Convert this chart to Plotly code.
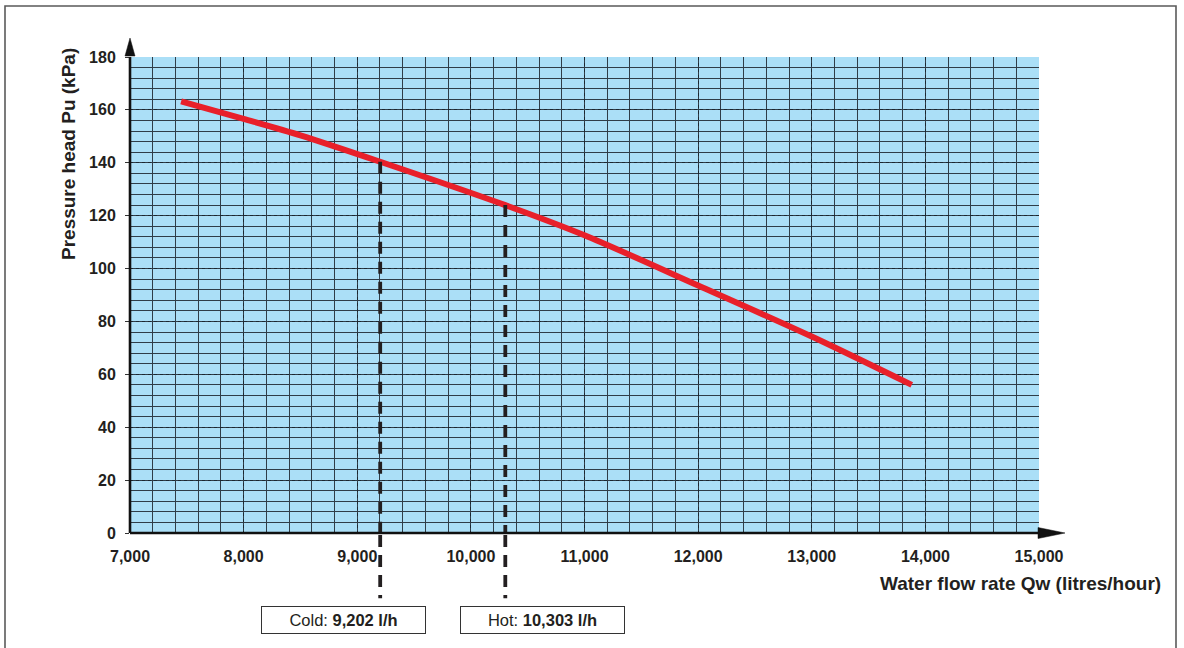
import plotly.graph_objects as go

# ---- data ----
flow = [7450, 8000, 8500, 9202, 10303, 11000, 12000, 13000, 13880]
pressure = [163.2, 156.6, 150.4, 140.4, 124.0, 112.6, 93.6, 74.3, 56.0]

cold_flow = 9202
hot_flow = 10303
cold_p = pressure[flow.index(cold_flow)]
hot_p = pressure[flow.index(hot_flow)]

x_range = [7000, 15000]
y_range = [0, 180]
x_ticks = [7000, 8000, 9000, 10000, 11000, 12000, 13000, 14000, 15000]
x_ticklabels = ["7,000", "8,000", "9,000", "10,000", "11,000", "12,000", "13,000", "14,000", "15,000"]
y_ticks = [0, 20, 40, 60, 80, 100, 120, 140, 160, 180]

FONT = "Liberation Sans, Arial, Helvetica, sans-serif"
TXT = "#231f20"

fig = go.Figure()
fig.add_trace(go.Scatter(
    x=flow, y=pressure, mode="lines",
    line=dict(color="#e8202a", width=6, shape="spline", smoothing=0.8),
    hoverinfo="skip", showlegend=False,
))

grid_major = dict(showgrid=True, gridcolor="#1c2730", gridwidth=1.4, griddash="dot")
grid_minor = dict(showgrid=True, gridcolor="#2f3d48", gridwidth=1.2, griddash="solid")

fig.update_xaxes(
    range=x_range, tickvals=x_ticks, ticktext=x_ticklabels,
    ticks="", ticklabelstandoff=12,
    tickfont=dict(family=FONT, size=16, color=TXT, weight="bold"),
    showline=False, zeroline=False,
    minor=dict(dtick=200, tick0=7000, **grid_minor),
    **grid_major,
)
fig.update_yaxes(
    range=y_range, tickvals=y_ticks,
    ticks="outside", ticklen=4, tickcolor="#333", tickwidth=1, ticklabelstandoff=6,
    tickfont=dict(family=FONT, size=16, color=TXT, weight="bold"),
    showline=False, zeroline=False,
    minor=dict(dtick=4, tick0=0, **grid_minor),
    **grid_major,
)

shapes = []
# dashed drop lines: inside plot (data refs) and below the axis (paper y)
for fx, fp in [(cold_flow, cold_p), (hot_flow, hot_p)]:
    shapes.append(dict(type="line", xref="x", yref="y", x0=fx, x1=fx, y0=fp, y1=0,
                       line=dict(color="#231f20", width=3.8, dash="12px,8px"), layer="above"))
    shapes.append(dict(type="line", xref="x", yref="paper", x0=fx, x1=fx, y0=-0.004, y1=-0.137,
                       line=dict(color="#231f20", width=3.8, dash="12px,8px"), layer="above"))

# axis lines with arrows (paper coords; plot area 909 x 476 px)
W, H = 909.0, 476.0
shapes.append(dict(type="line", xref="paper", yref="paper", x0=0, x1=1 + 2 / W, y0=0, y1=0,
                   line=dict(color="#111", width=2.6), layer="above"))
shapes.append(dict(type="line", xref="paper", yref="paper", x0=0, x1=0, y0=0, y1=1,
                   line=dict(color="#111", width=2.6), layer="above"))
shapes.append(dict(type="path", xref="paper", yref="paper",
                   path=f"M {-5/W} {1+1/H} L {5/W} {1+1/H} L 0 {1+19/H} Z",
                   fillcolor="#111", line=dict(color="#111", width=0.5), layer="above"))
shapes.append(dict(type="path", xref="paper", yref="paper",
                   path=f"M {1-1/W} {5.5/H} L {1-1/W} {-5.5/H} L {1+26/W} 0 Z",
                   fillcolor="#111", line=dict(color="#111", width=0.5), layer="above"))
# outer frame
shapes.append(dict(type="rect", xref="paper", yref="paper",
                   x0=-125 / W, x1=1046 / W, y0=-130 / H, y1=527 / H,
                   line=dict(color="#5a5a5a", width=1.6), fillcolor="rgba(0,0,0,0)", layer="above"))

annotations = [
    dict(text="Pressure head Pu (kPa)", xref="paper", yref="paper",
         x=-62 / W, y=(533 - 154) / H, textangle=-90, showarrow=False,
         font=dict(family=FONT, size=19, color=TXT, weight="bold"), xanchor="center", yanchor="middle"),
    dict(text="Water flow rate Qw (litres/hour)", xref="paper", yref="paper",
         x=1033 / W, y=-50 / H, showarrow=False,
         font=dict(family=FONT, size=19, color=TXT, weight="bold"), xanchor="right", yanchor="middle"),
    dict(text=f"Cold: <b>{cold_flow:,} l/h</b>", xref="paper", yref="paper",
         x=213.5 / W, y=-87 / H, showarrow=False, width=163, height=26,
         bordercolor="#333", borderwidth=1, borderpad=0, bgcolor="white",
         font=dict(family=FONT, size=16.5, color=TXT), xanchor="center", yanchor="middle"),
    dict(text=f"Hot: <b>{hot_flow:,} l/h</b>", xref="paper", yref="paper",
         x=412.5 / W, y=-87 / H, showarrow=False, width=163, height=26,
         bordercolor="#333", borderwidth=1, borderpad=0, bgcolor="white",
         font=dict(family=FONT, size=16.5, color=TXT), xanchor="center", yanchor="middle"),
]

fig.update_layout(
    width=1184, height=648, autosize=False,
    margin=dict(l=130, r=145, t=57, b=115),
    paper_bgcolor="white", plot_bgcolor="#abdff7",
    shapes=shapes, annotations=annotations, showlegend=False,
    font=dict(family=FONT, color=TXT),
)

# remove the default page margin so the figure sits at the window's top-left corner
fig.write_html("out.html",
               config={"displayModeBar": False},
               post_script="document.body.style.margin='0';document.body.style.overflow='hidden';")
